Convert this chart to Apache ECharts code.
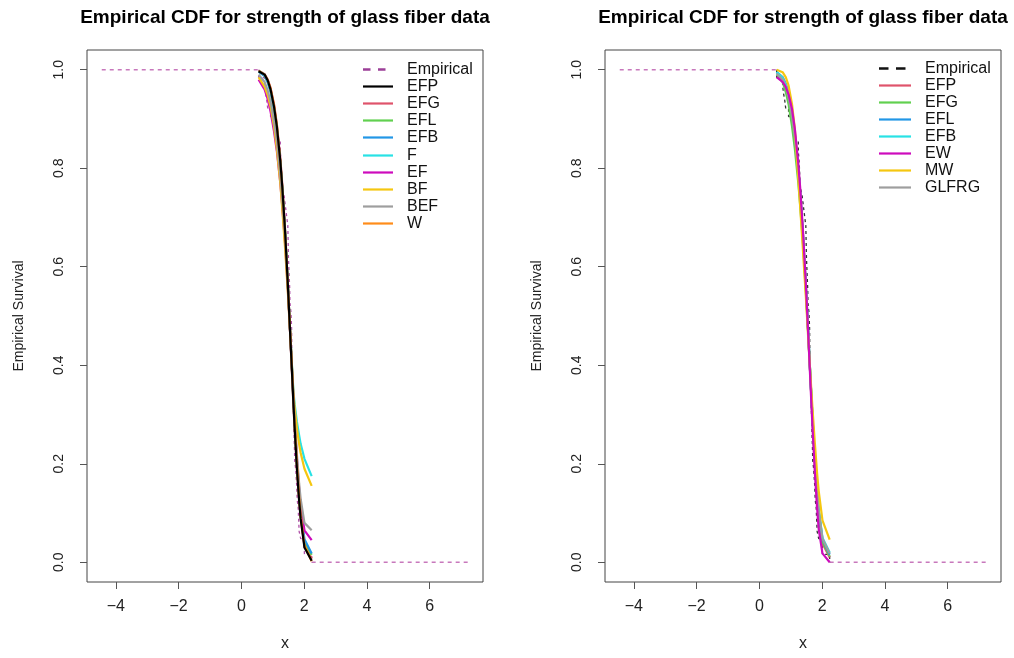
<!DOCTYPE html>
<html>
<head>
<meta charset="utf-8">
<script src="https://cdn.jsdelivr.net/npm/echarts@6/dist/echarts.min.js"></script>
<style>
html,body{margin:0;padding:0;background:#fff;}
#chart{width:1014px;height:658px;}
</style>
</head>
<body>
<div id="chart"></div>
<script>
// ---------- data ----------
const chartTitle = 'Empirical CDF for strength of glass fiber data';
const xTicks = [-4, -2, 0, 2, 4, 6];
const yTicks = [0, 0.2, 0.4, 0.6, 0.8, 1.0];

// empirical survival (step)
const empX = [0.55,0.74,0.77,0.81,0.84,0.93,1.04,1.11,1.13,1.24,1.25,1.27,1.28,1.29,1.30,1.36,1.39,1.42,1.48,1.49,1.50,1.51,1.52,1.53,1.54,1.55,1.58,1.59,1.60,1.61,1.62,1.63,1.64,1.66,1.67,1.68,1.69,1.70,1.73,1.76,1.77,1.78,1.81,1.82,1.84,1.89,2.00,2.01,2.24];
const empS = [0.984,0.968,0.952,0.937,0.921,0.905,0.889,0.873,0.857,0.841,0.825,0.810,0.794,0.778,0.762,0.746,0.730,0.714,0.683,0.651,0.619,0.603,0.587,0.571,0.556,0.524,0.508,0.492,0.476,0.413,0.381,0.365,0.349,0.302,0.286,0.254,0.238,0.206,0.190,0.159,0.143,0.127,0.111,0.095,0.063,0.048,0.032,0.016,0.0];
const extLowX = [-4.45, 0.55];
const extHighX = [2.24, 7.23];

// x positions of the fitted curves
const fitX = [0.55,0.74,0.84,0.93,1.04,1.13,1.24,1.30,1.39,1.48,1.55,1.61,1.66,1.70,1.77,1.84,1.89,2.01,2.24];

// left panel fitted survival curves
const L_EFP = [0.997,0.990,0.978,0.960,0.925,0.885,0.815,0.765,0.675,0.565,0.470,0.390,0.320,0.270,0.190,0.125,0.088,0.030,0.003];
const L_EFG = [0.998,0.991,0.980,0.963,0.930,0.890,0.820,0.770,0.678,0.566,0.470,0.388,0.318,0.268,0.190,0.127,0.090,0.033,0.008];
const L_EFL = [0.996,0.988,0.976,0.958,0.922,0.882,0.812,0.762,0.672,0.565,0.472,0.393,0.325,0.276,0.198,0.134,0.097,0.040,0.015];
const L_EFB = [0.996,0.987,0.974,0.955,0.919,0.878,0.808,0.759,0.670,0.564,0.473,0.396,0.330,0.282,0.205,0.142,0.105,0.047,0.018];
const L_F   = [0.998,0.990,0.977,0.958,0.921,0.879,0.808,0.758,0.668,0.562,0.474,0.402,0.345,0.320,0.285,0.258,0.240,0.210,0.175];
const L_EF  = [0.980,0.960,0.940,0.915,0.875,0.835,0.770,0.725,0.650,0.555,0.470,0.395,0.332,0.285,0.210,0.150,0.115,0.065,0.045];
const L_BF  = [0.985,0.965,0.948,0.925,0.885,0.840,0.770,0.720,0.640,0.550,0.470,0.400,0.340,0.312,0.272,0.240,0.222,0.190,0.155];
const L_BEF = [0.990,0.975,0.958,0.935,0.895,0.855,0.785,0.738,0.660,0.560,0.474,0.398,0.336,0.290,0.218,0.160,0.128,0.080,0.065];
const L_W   = [0.998,0.990,0.979,0.962,0.928,0.887,0.814,0.763,0.671,0.564,0.474,0.394,0.329,0.279,0.200,0.133,0.095,0.035,0.002];

// right panel fitted survival curves
const R_EFP   = [0.995,0.985,0.972,0.953,0.915,0.872,0.800,0.752,0.665,0.562,0.474,0.395,0.330,0.280,0.200,0.135,0.097,0.038,0.010];
const R_EFG   = [0.990,0.975,0.955,0.930,0.885,0.840,0.770,0.725,0.647,0.552,0.470,0.395,0.332,0.284,0.205,0.140,0.102,0.042,0.012];
const R_EFL   = [0.995,0.984,0.970,0.950,0.912,0.868,0.797,0.750,0.664,0.562,0.475,0.397,0.333,0.284,0.206,0.142,0.105,0.047,0.016];
const R_EFB   = [0.995,0.984,0.970,0.950,0.912,0.869,0.798,0.750,0.664,0.562,0.475,0.397,0.334,0.285,0.208,0.145,0.108,0.050,0.020];
const R_EW    = [0.985,0.975,0.965,0.950,0.920,0.880,0.810,0.760,0.672,0.566,0.472,0.388,0.318,0.265,0.180,0.110,0.068,0.018,0.000];
const R_MW    = [1.000,0.995,0.985,0.968,0.930,0.880,0.780,0.722,0.632,0.540,0.462,0.398,0.345,0.305,0.240,0.180,0.145,0.085,0.046];
const R_GLFRG = [0.992,0.980,0.965,0.945,0.905,0.862,0.792,0.745,0.660,0.560,0.474,0.397,0.333,0.285,0.207,0.143,0.106,0.048,0.018];

// ---------- colours ----------
const C = {black:'#000000', pink:'#DF536B', green:'#61D04F', blue:'#2297E6', cyan:'#28E2E5',
           magenta:'#CD0BBC', yellow:'#F5C710', gray:'#9E9E9E', orange:'#FF8C1A'};

const leftCurves = [
  ['EFG', L_EFG, C.pink], ['EFL', L_EFL, C.green], ['EFB', L_EFB, C.blue], ['F', L_F, C.cyan],
  ['EF', L_EF, C.magenta], ['BF', L_BF, C.yellow], ['BEF', L_BEF, C.gray], ['W', L_W, C.orange],
  ['EFP', L_EFP, C.black]
];
const leftOrder = ['EFP','EFG','EFL','EFB','F','EF','BF','BEF','W'];
const rightCurves = [
  ['EFP', R_EFP, C.pink], ['EFG', R_EFG, C.green], ['EFL', R_EFL, C.blue], ['EFB', R_EFB, C.cyan],
  ['GLFRG', R_GLFRG, C.gray], ['MW', R_MW, C.yellow], ['EW', R_EW, C.magenta]
];
const rightOrder = ['EFP','EFG','EFL','EFB','EW','MW','GLFRG'];

const empData = [[empX[0], 1]].concat(empX.map((x, i) => [x, empS[i]]));
const extData = [[extLowX[0], 1], [extLowX[1], 1], null, [extHighX[0], 0], [extHighX[1], 0]];

function pairs(xs, ys) { return xs.map((x, i) => [x, ys[i]]); }

const FONT = '"Liberation Sans", Arial, Helvetica, sans-serif';
const grids = [
  {left: 87, top: 50, width: 396, height: 532},
  {left: 605, top: 50, width: 396, height: 532}
];

function xAxisFor(i) {
  return {
    gridIndex: i, type: 'value', min: -4.92, max: 7.70,
    splitLine: {show: false}, axisLine: {show: false, onZero: false},
    axisTick: {show: true, customValues: xTicks, length: 7, lineStyle: {color: '#555', width: 1}},
    axisLabel: {customValues: xTicks, margin: 17, fontSize: 16, color: '#222', fontFamily: FONT,
      formatter: v => (v < 0 ? '\u2212' + Math.abs(v) : String(v))},
    name: 'x', nameLocation: 'middle', nameGap: 54,
    nameTextStyle: {fontSize: 16, color: '#222', fontFamily: FONT}
  };
}
function yAxisFor(i) {
  return {
    gridIndex: i, type: 'value', min: -0.04, max: 1.04,
    splitLine: {show: false}, axisLine: {show: false, onZero: false},
    axisTick: {show: true, customValues: yTicks, length: 7, lineStyle: {color: '#555', width: 1}},
    axisLabel: {customValues: yTicks, margin: 21, fontSize: 14, rotate: 90, color: '#222', fontFamily: FONT,
      formatter: v => v.toFixed(1)},
    name: 'Empirical Survival', nameLocation: 'middle', nameGap: 61,
    nameTextStyle: {fontSize: 14, color: '#222', fontFamily: FONT}
  };
}

const EXT_COLOR = '#c878bc';
const series = [];
// panel 0
series.push({type: 'line', name: 'ext0', xAxisIndex: 0, yAxisIndex: 0, data: extData, symbol: 'none',
  lineStyle: {color: EXT_COLOR, width: 1.4, type: [4, 4]}, silent: true, z: 1});
series.push({type: 'line', name: 'Empirical', xAxisIndex: 0, yAxisIndex: 0, data: empData, step: 'end', symbol: 'none',
  lineStyle: {color: '#b050a8', width: 1.3, type: [3, 3]}, z: 1});
leftCurves.forEach(([n, ys, col]) => series.push({type: 'line', name: n, xAxisIndex: 0, yAxisIndex: 0,
  data: pairs(fitX, ys), symbol: 'none', lineStyle: {color: col, width: 2.2}, itemStyle: {color: col}, z: 2}));
// panel 1
series.push({type: 'line', name: 'ext1', xAxisIndex: 1, yAxisIndex: 1, data: extData, symbol: 'none',
  lineStyle: {color: EXT_COLOR, width: 1.4, type: [4, 4]}, silent: true, z: 1});
series.push({type: 'line', name: 'Empirical', xAxisIndex: 1, yAxisIndex: 1, data: empData, step: 'end', symbol: 'none',
  lineStyle: {color: '#333', width: 1.3, type: [3, 3]}, z: 1});
rightCurves.forEach(([n, ys, col]) => series.push({type: 'line', name: n, xAxisIndex: 1, yAxisIndex: 1,
  data: pairs(fitX, ys), symbol: 'none', lineStyle: {color: col, width: 2.2}, itemStyle: {color: col}, z: 2}));

// legends drawn as graphic elements (the two panels share names with different colours)
function legendGraphics(order, curves, empColor, x0, lineW, textX, y0, pitch, dash) {
  const els = [];
  const rows = [['Empirical', empColor, true]].concat(order.map(n => [n, curves.find(c => c[0] === n)[2], false]));
  rows.forEach(([name, col, dashed], i) => {
    const y = Math.round(y0 + pitch * i) + 0.5;
    els.push({type: 'line', silent: true, z: 10,
      shape: {x1: x0, y1: y, x2: x0 + (dashed ? dash[0] * 2 + dash[1] : lineW), y2: y},
      style: {stroke: col, lineWidth: dashed ? 2.5 : 2.2, lineDash: dashed ? dash : null}});
    els.push({type: 'text', silent: true, z: 10, x: textX, y: y,
      style: {text: name, fill: '#111', font: '16px ' + FONT, verticalAlign: 'middle', align: 'left'}});
  });
  return els;
}

const option = {
  animation: false,
  backgroundColor: '#fff',
  title: [
    {text: chartTitle, left: 280, top: 3, textAlign: 'center',
     textStyle: {fontSize: 19, fontWeight: 'bold', color: '#000', fontFamily: FONT}},
    {text: chartTitle, left: 798, top: 3, textAlign: 'center',
     textStyle: {fontSize: 19, fontWeight: 'bold', color: '#000', fontFamily: FONT}}
  ],
  grid: grids.map(g => Object.assign({show: true, borderColor: '#444', borderWidth: 1, backgroundColor: 'transparent'}, g)),
  xAxis: [xAxisFor(0), xAxisFor(1)],
  yAxis: [yAxisFor(0), yAxisFor(1)],
  graphic: legendGraphics(leftOrder, leftCurves, '#9c3f98', 363, 30, 407, 69, 17.1, [7.5, 7.5])
    .concat(legendGraphics(rightOrder, rightCurves, '#111', 879, 32, 925, 68, 17, [9.5, 7.5])),
  series: series
};

const chart = echarts.init(document.getElementById('chart'), null, {renderer: 'canvas'});
chart.setOption(option);
</script>
</body>
</html>
